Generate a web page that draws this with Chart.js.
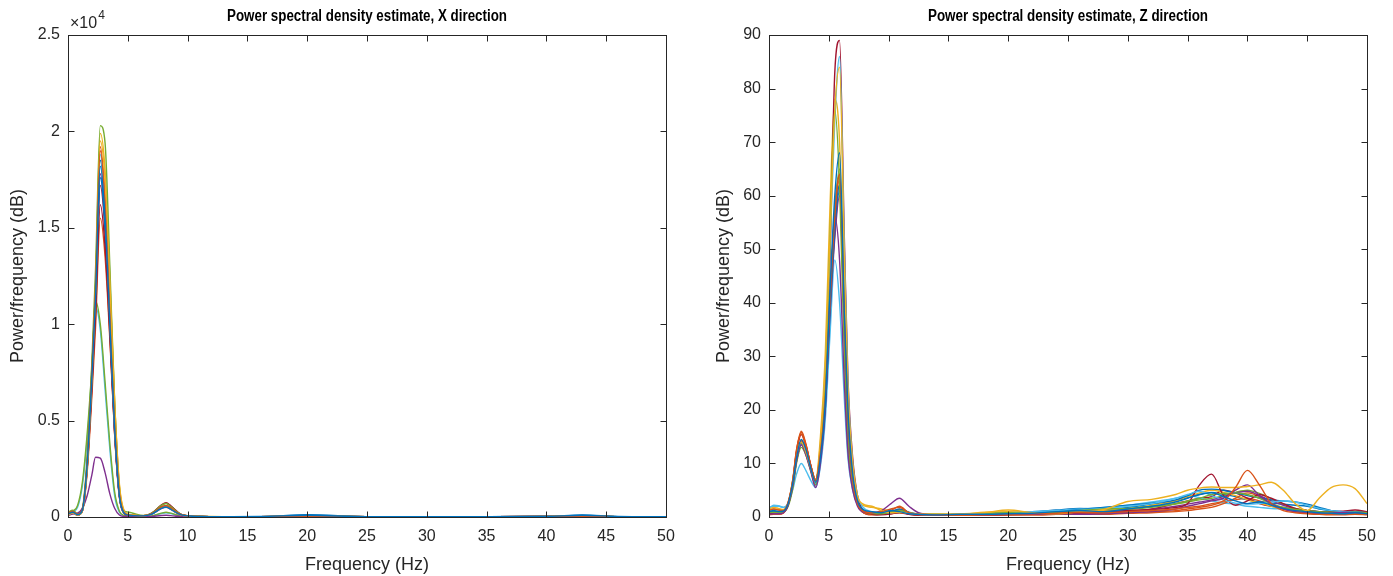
<!DOCTYPE html>
<html>
<head>
<meta charset="utf-8">
<script src="https://cdn.jsdelivr.net/npm/chart.js@4.4.1/dist/chart.umd.min.js"></script>
<style>
  body { margin: 0; background: #fff; }
  .panel { position: absolute; top: 0; width: 696px; height: 576px; }
</style>
</head>
<body>
<div class="panel" style="left:0"><canvas id="chartX"></canvas></div>
<div class="panel" style="left:697px"><canvas id="chartZ"></canvas></div>
<script>
// MATLAB default line colours, cycled over the runs
const lineColors = ['#0072BD', '#D95319', '#EDB120', '#7E2F8E', '#77AC30', '#4DBEEE', '#A2142F'];

// ---- X direction: frequency (Hz) and PSD of each run ----
const freqX = [0, 0.4, 0.8, 1.2, 1.6, 2.0, 2.3, 2.7, 3.1, 3.5, 3.9, 4.3, 4.7, 5.1, 5.5, 6.3, 7.0, 7.8, 8.2, 8.6, 9.4, 10.2, 11, 13, 16, 20, 25, 30, 35, 40, 43, 46, 50];
const psdX = [
  [150,250,120,350,2700,7300,11300,18200,15500,10000,4600,1100,200,90,70,60,150,450,520,400,120,50,30,20,25,90,20,15,20,30,90,25,10],
  [200,300,150,400,2900,7600,11800,19000,16200,10400,4800,1200,220,100,80,70,180,520,600,470,130,60,30,20,20,40,20,15,20,25,40,20,10],
  [100,200,100,300,2500,7200,11700,19500,17500,12200,5900,1600,300,120,90,60,160,480,560,430,110,50,25,20,20,30,15,10,15,20,30,15,10],
  [80,150,200,450,1100,2200,3100,3050,2300,1200,450,100,30,20,15,10,30,80,90,70,20,10,5,5,5,10,5,5,5,5,10,5,5],
  [250,350,180,450,3100,8100,12800,20300,19400,13000,6000,1500,300,250,180,80,200,600,700,540,150,60,30,20,20,40,20,15,20,25,40,20,10],
  [150,250,120,350,2800,7500,11700,18800,16000,10300,4600,1100,200,90,70,60,170,500,580,450,120,50,30,20,20,40,20,15,20,25,40,20,10],
  [120,200,100,300,2500,6700,10400,16200,14000,9400,4300,1000,180,80,60,50,200,620,740,580,150,50,30,20,20,40,20,15,20,25,40,20,10],
  [200,300,150,380,2600,7000,10900,17600,15000,9800,4500,1100,200,90,70,60,160,480,560,430,120,50,30,20,20,120,20,15,20,25,110,20,10],
  [150,250,120,330,2300,6300,9800,15500,13500,9200,4300,1100,220,100,80,70,170,500,580,450,120,50,30,20,20,40,20,15,20,25,40,20,10],
  [120,220,110,320,2600,7400,12000,19900,18000,12400,6000,1700,320,130,90,60,160,470,550,420,110,50,25,20,20,30,15,10,15,20,30,15,10],
  [100,200,100,320,2600,7100,11000,17800,15300,9900,4500,1100,200,90,70,60,150,430,500,390,110,50,30,20,20,40,20,15,20,25,40,20,10],
  [200,300,600,1800,4300,7800,11200,10000,7000,3800,1300,300,80,40,30,20,60,200,250,200,60,20,10,10,10,20,10,5,10,10,20,10,5],
  [150,250,500,1600,4000,7500,10900,9700,6600,3500,1100,250,60,30,20,20,50,180,220,180,50,20,10,10,10,20,10,5,10,10,20,10,5],
  [130,220,110,330,2500,6900,10700,17200,14800,9700,4400,1050,190,80,60,50,190,600,720,560,150,50,30,20,20,40,20,15,20,25,40,20,10],
  [150,250,120,350,2700,7400,11500,18500,15800,10200,4600,1100,200,90,70,60,160,460,540,410,120,50,30,20,20,60,20,15,20,25,60,20,10],
  [180,280,140,380,2800,7600,11900,19200,16500,10700,4900,1200,220,100,80,70,180,510,590,460,130,60,30,20,20,40,20,15,20,25,40,20,10]
];

// ---- Z direction ----
const freqZ = [0, 0.4, 0.8, 1.2, 1.6, 2.0, 2.3, 2.7, 3.1, 3.5, 3.9, 4.3, 4.7,
  5.1, 5.5, 5.9, 6.3, 6.6, 7.0, 7.4, 7.8,
  8.6, 9.4, 10.2, 10.9, 11.7, 12.5, 14, 16, 18, 20, 22, 24, 26, 28,
  30, 32, 34, 35, 36, 37, 38, 39, 40, 41, 42, 43, 44, 45, 46, 47, 48, 49, 50];
const psdZ = [
  [1.0,1.2,1.0,1.1,2.5,6.5,11,14.5,12.5,9,6.5,11,21, 42,60,68,38,20,8,3,1.5,
   1.0,0.8,1.2,1.0,0.6,0.5,0.4,0.5,0.5,0.6,0.7,1.0,1.2,1.0,
   1.5,2.0,2.8,3.5,4.2,4.5,3.8,3.0,2.5,2.8,2.2,1.6,1.2,1.0,0.8,0.7,0.6,0.8,0.6],
  [1.2,1.5,1.3,1.2,2.8,7,12.5,15.5,13,9.5,7,12,22, 40,56,64,37,19,7,2.5,1.2,
   0.8,1.0,1.5,1.8,0.8,0.5,0.4,0.3,0.4,0.5,0.6,0.7,0.9,0.8,
   1.0,1.2,1.5,1.8,2.0,2.5,3.0,5.5,8.7,6.0,2.5,1.2,0.8,0.6,0.5,0.5,0.5,0.6,0.5],
  [1.5,1.8,1.6,1.4,2.6,6.8,11.5,14.0,12.0,9.0,6.5,14,28, 52,76,84,48,24,10,4,2.5,
   2.0,1.2,0.8,0.9,0.7,0.6,0.5,0.6,0.8,1.3,0.8,0.6,1.0,1.4,
   2.9,3.3,4.2,5.0,5.4,5.6,5.5,5.5,5.7,6.0,6.5,5.0,2.5,1.2,3.5,5.5,6.0,5.3,2.5],
  [0.5,0.6,0.6,0.8,2.2,6,10.5,13.5,11.5,8.5,5.5,10,20, 40,56,48,25,12,5,2,1.0,
   0.8,1.2,2.5,3.5,2.0,0.8,0.4,0.3,0.4,0.5,0.5,0.6,0.5,0.6,
   0.8,1.0,1.5,2.0,2.5,3.0,3.5,5.0,6.0,4.0,2.5,1.5,1.0,0.8,0.6,0.7,0.9,0.8,0.6],
  [0.8,0.9,0.8,0.9,2.0,5.5,10,13.0,11.5,8.5,6.0,12,25, 52,76,62,30,14,6,2.5,1.2,
   0.7,0.6,0.9,1.2,0.8,0.5,0.5,0.4,0.6,0.8,0.7,0.9,1.2,1.5,
   1.6,2.0,2.5,3.0,3.5,4.2,4.4,4.5,4.2,3.5,2.5,1.8,1.4,1.2,1.0,0.9,0.8,0.9,0.8],
  [1.6,2.2,2.1,1.8,2.6,6.2,10.5,13.5,12,9,6.3,13,27, 50,74,86,50,25,10,4,2,
   1.0,0.8,0.8,1.0,0.7,0.5,0.4,0.5,0.6,0.7,0.9,1.1,1.3,1.6,
   2.0,2.5,3.5,4.2,4.8,4.0,3.2,2.6,2.4,2.5,2.8,3.0,2.8,2.2,1.6,1.2,1.0,0.9,0.8],
  [0.6,0.7,0.8,1.0,2.4,6.4,11,14.2,12.4,9.2,6.6,13,26, 48,83,89,52,26,11,4,1.5,
   0.6,0.5,0.6,0.8,0.5,0.4,0.3,0.3,0.4,0.5,0.6,0.6,0.8,1.0,
   1.2,1.4,1.8,2.5,6.0,8.0,4.0,2.2,3.0,4.2,3.5,2.5,1.6,1.2,1.0,1.0,1.1,1.3,1.0],
  [0.9,1.0,1.1,1.2,2.4,6.2,10.8,14,12.2,9,6.2,11,20, 38,54,62,36,18,7,2.5,1.2,
   0.8,0.7,1.0,1.5,0.9,0.5,0.4,0.4,0.5,0.6,0.8,1.0,1.4,1.8,
   2.2,2.6,3.2,4.0,5.0,5.2,5.0,4.5,4.0,3.6,3.2,3.0,2.8,2.4,1.8,1.2,1.0,1.0,0.9],
  [0.4,0.5,0.5,0.7,2.6,7.2,12.5,16,13.5,9.5,6.8,12,22, 40,56,63,37,18,7,2.5,1.0,
   0.5,0.6,1.0,1.4,0.7,0.4,0.3,0.3,0.3,0.4,0.4,0.5,0.6,0.5,
   0.7,0.8,1.0,1.2,1.5,1.8,2.5,3.5,4.5,3.8,2.5,1.5,1.0,0.7,0.5,0.4,0.4,0.5,0.4],
  [1.2,1.5,1.4,1.3,2.5,6.5,11.2,14.4,12.4,9.4,7.0,15,30, 58,78,70,36,17,7,3,2.2,
   1.8,1.5,1.0,0.8,0.7,0.6,0.5,0.5,0.9,1.0,0.7,0.6,0.9,1.2,
   1.5,2.2,3.0,3.8,4.5,5.0,4.6,4.0,3.2,2.6,2.0,1.5,1.2,1.0,0.9,0.8,0.8,1.0,0.8],
  [0.5,0.6,0.7,0.9,2.3,6.2,10.6,13.5,11.8,8.8,6.0,11,21, 38,52,60,35,17,7,2.5,1.0,
   0.5,0.5,0.8,1.2,0.7,0.4,0.3,0.3,0.4,0.5,0.5,0.6,0.8,0.9,
   1.0,1.4,2.0,2.4,2.8,3.2,3.8,4.5,4.8,4.0,3.0,2.2,1.5,1.2,1.0,0.9,0.8,0.8,0.7],
  [0.8,0.9,0.9,1.0,2.2,6,10.5,13.8,12,9,6.4,12,22, 40,57,65,38,18,7,2.5,1.1,
   0.6,0.6,0.8,1.0,0.6,0.4,0.4,0.5,0.7,0.9,0.8,0.9,1.0,1.2,
   1.4,1.8,2.4,2.8,3.2,3.5,4.0,4.6,5.0,4.4,3.4,2.4,1.6,1.2,1.0,0.8,0.8,0.9,0.8],
  [1.8,2.0,2.0,1.8,2.6,5.2,8.0,10,8.6,6.8,5.5,9.5,18, 34,48,40,22,11,5,2.2,1.2,
   0.8,0.7,0.8,1.0,0.8,0.6,0.5,0.5,0.6,0.8,1.0,1.2,1.5,1.8,
   2.2,2.8,3.5,4.0,3.6,3.0,2.6,2.4,2.0,1.8,1.6,1.5,1.4,1.2,1.0,0.9,0.8,0.8,0.7],
  [0.5,0.6,0.6,0.8,2.5,6.8,12,15.4,13.2,9.6,6.8,12,22, 40,57,64,38,18,7,2.5,1.0,
   0.5,0.4,0.6,1.0,0.5,0.3,0.3,0.3,0.3,0.4,0.5,0.6,0.7,0.8,
   1.0,1.5,2.5,3.0,3.5,3.8,5.0,4.5,3.5,2.5,2.0,1.8,1.4,1.2,1.0,0.9,0.8,0.9,0.8],
  [1.0,1.1,1.0,1.1,2.3,6.0,10.4,13.6,11.8,8.8,6.0,11,20, 38,53,61,36,17,7,2.5,1.2,
   0.7,0.6,0.7,0.9,0.6,0.4,0.4,0.5,0.6,0.8,1.0,1.3,1.6,1.5,
   1.8,2.4,3.0,3.6,4.2,4.6,4.2,3.8,3.2,2.8,2.6,2.4,2.2,2.0,1.5,1.2,1.0,1.0,0.9],
  [0.6,0.7,0.7,0.9,2.6,7.0,12.2,15.8,13.4,9.6,6.8,11.5,21, 39,55,62,36,18,7,2.5,1.0,
   0.4,0.5,1.2,2.0,0.8,0.4,0.3,0.3,0.3,0.4,0.4,0.5,0.6,0.7,
   0.8,1.0,1.2,1.5,1.8,2.2,2.8,3.2,3.5,3.0,2.4,1.6,1.0,0.8,0.7,0.6,0.6,0.7,0.6]
];

const axisColor = '#262626';
const fontFamily = "'Liberation Sans', Arial, sans-serif";
const titleWidth = 280;   // the titles are set in a condensed bold face

// MATLAB-style box with inward ticks, plus the title and the exponent
const matlabAxes = {
  id: 'matlabAxes',
  afterDraw(chart, args, opts) {
    const ctx = chart.ctx;
    const a = chart.chartArea;
    const L = Math.round(a.left) + 0.5, R = Math.round(a.right) + 0.5;
    const T = Math.round(a.top) + 0.5, B = Math.round(a.bottom) + 0.5;
    ctx.save();
    ctx.strokeStyle = axisColor;
    ctx.lineWidth = 1;
    ctx.strokeRect(L, T, R - L, B - T);
    ctx.beginPath();
    chart.scales.x.ticks.forEach(t => {
      const px = Math.round(chart.scales.x.getPixelForValue(t.value)) + 0.5;
      ctx.moveTo(px, B); ctx.lineTo(px, B - 6);
      ctx.moveTo(px, T); ctx.lineTo(px, T + 6);
    });
    chart.scales.y.ticks.forEach(t => {
      const py = Math.round(chart.scales.y.getPixelForValue(t.value)) + 0.5;
      ctx.moveTo(L, py); ctx.lineTo(L + 6, py);
      ctx.moveTo(R, py); ctx.lineTo(R - 6, py);
    });
    ctx.stroke();

    // title: bold 16px, squeezed horizontally to the original width
    ctx.fillStyle = '#000';
    ctx.font = 'bold 16px ' + fontFamily;
    ctx.textAlign = 'center';
    ctx.textBaseline = 'middle';
    const sx = Math.min(1, titleWidth / ctx.measureText(opts.title).width);
    ctx.save();
    ctx.translate((a.left + a.right) / 2, 17);
    ctx.scale(sx, 1);
    ctx.fillText(opts.title, 0, 0);
    ctx.restore();

    if (opts.exponent) {
      ctx.fillStyle = axisColor;
      ctx.textAlign = 'left';
      ctx.textBaseline = 'alphabetic';
      ctx.font = '16px ' + fontFamily;
      ctx.fillText('\u00d710', a.left + 2, 28);
      const w = ctx.measureText('\u00d710').width;
      ctx.font = '12px ' + fontFamily;
      ctx.fillText(opts.exponent, a.left + 3 + w, 19);
    }
    ctx.restore();
  }
};

function makeChart(id, freq, series, yMax, yStep, yFmt, axisWidth, yTitlePad, title, exponent) {
  const datasets = series.map((vals, i) => ({
    data: vals.map((v, k) => ({ x: freq[k], y: v })),
    borderColor: lineColors[i % lineColors.length],
    borderWidth: 1.4,
    pointRadius: 0,
    cubicInterpolationMode: 'monotone',
    fill: false
  }));
  return new Chart(document.getElementById(id), {
    type: 'line',
    data: { datasets },
    options: {
      responsive: true,
      maintainAspectRatio: false,
      animation: false,
      layout: { padding: { top: 35, right: 696 - axisWidth - 598, bottom: 0, left: 0 } },
      plugins: {
        legend: { display: false },
        tooltip: { enabled: false },
        matlabAxes: { title, exponent }
      },
      scales: {
        x: {
          type: 'linear', min: 0, max: 50,
          grid: { display: false, drawTicks: false },
          border: { display: false },
          ticks: { stepSize: 5, color: axisColor, padding: 10, font: { family: fontFamily, size: 16 } },
          title: { display: true, text: 'Frequency (Hz)', color: axisColor, padding: { top: 0, bottom: 0 }, font: { family: fontFamily, size: 18 } },
          afterFit(s) { s.height = 59; }
        },
        y: {
          min: 0, max: yMax,
          grid: { display: false, drawTicks: false },
          border: { display: false },
          ticks: { stepSize: yStep, color: axisColor, padding: 8, font: { family: fontFamily, size: 16 }, callback: yFmt },
          title: { display: true, text: 'Power/frequency (dB)', color: axisColor, padding: { top: yTitlePad, bottom: 0 }, font: { family: fontFamily, size: 18 } },
          afterFit(s) { s.width = axisWidth; }
        }
      }
    },
    plugins: [matlabAxes]
  });
}

makeChart('chartX', freqX, psdX, 25000, 5000, v => String(v / 10000), 68, 7,
  'Power spectral density estimate, X direction', '4');
makeChart('chartZ', freqZ, psdZ, 90, 10, v => String(v), 72, 16,
  'Power spectral density estimate, Z direction', null);
</script>
</body>
</html>
